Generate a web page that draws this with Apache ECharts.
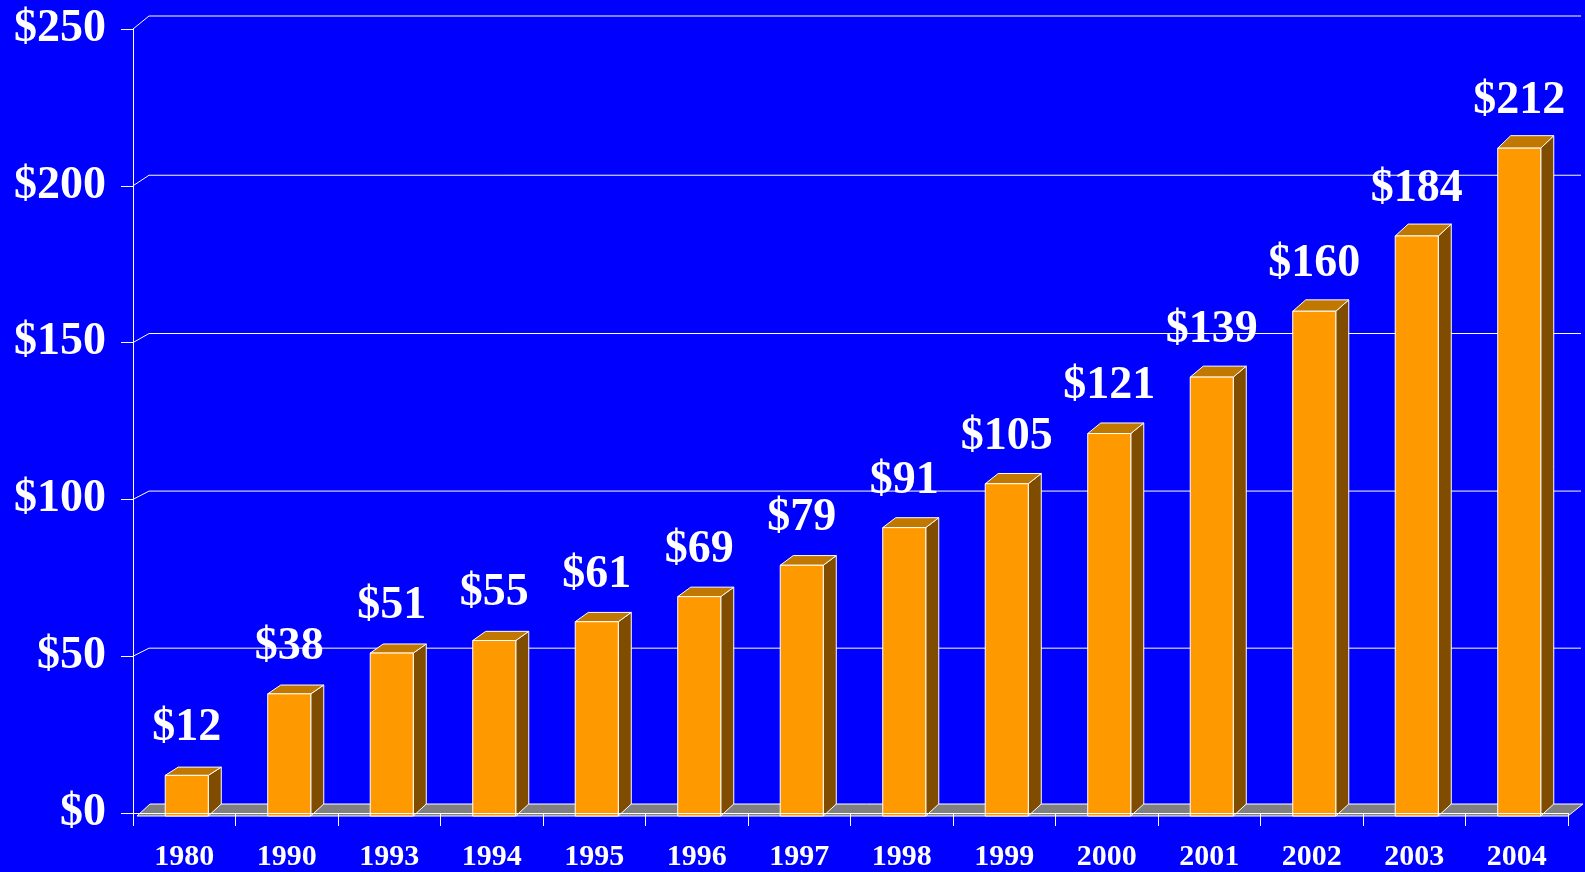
<!DOCTYPE html>
<html>
<head>
<meta charset="utf-8">
<script src="https://cdn.jsdelivr.net/npm/echarts@6/dist/echarts.min.js"></script>
<style>
html,body{margin:0;padding:0;background:#0000FF;}
#c{width:1585px;height:872px;}
</style>
</head>
<body>
<div id="c"></div>
<script>
const years = ['1980','1990','1993','1994','1995','1996','1997','1998','1999','2000','2001','2002','2003','2004'];
const values = [12,38,51,55,61,69,79,91,105,121,139,160,184,212];
const yTicks = [0,50,100,150,200,250];

const FONT = '"Liberation Serif","Times New Roman",serif';
const chart = echarts.init(document.getElementById('c'));

function wallDy(v){ return -(8 + 5*Math.pow(v/250,3)); }

const option = {
  backgroundColor: '#0000FF',
  animation: false,
  grid: {left: 133, right: 17, top: 29, bottom: 58, containLabel: false},
  xAxis: {
    type: 'category', data: years, z: 10,
    axisLine: {show: true, lineStyle: {color: '#FFFFFF', width: 1}},
    axisTick: {show: true, length: 13, lineStyle: {color: '#FFFFFF'}},
    axisLabel: {color: '#FFFFFF', fontFamily: FONT, fontWeight: 'bold', fontSize: 30, margin: 29}
  },
  yAxis: {
    type: 'value', min: 0, max: 250, interval: 50, z: 10,
    axisLine: {show: true, lineStyle: {color: '#FFFFFF', width: 1}},
    axisTick: {show: true, length: 12, lineStyle: {color: '#FFFFFF'}},
    splitLine: {show: false},
    axisLabel: {color: '#FFFFFF', fontFamily: FONT, fontWeight: 'bold', fontSize: 46, margin: 27,
      formatter: v => '$' + v}
  },
  series: [
    {
      type: 'custom', name: 'grid', z: 1, clip: false, silent: true,
      data: yTicks.map(v => [0, v]),
      renderItem: function(params, api){
        const cs = params.coordSys;
        const v = api.value(1);
        const y = api.coord([0, v])[1];
        const dy = wallDy(v);
        if (v === 0) return null;
        return {
          type: 'polyline',
          shape: {points: [[cs.x, y], [cs.x + 16, y + dy], [cs.x + cs.width + 13, y + dy]]},
          style: {stroke: '#FFFFFF', lineWidth: 1, fill: null}
        };
      }
    },
    {
      type: 'custom', name: 'floor', z: 2, clip: false, silent: true,
      data: [[0, 0]],
      renderItem: function(params, api){
        const cs = params.coordSys;
        const y0 = api.coord([0, 0])[1];
        return {
          type: 'polygon',
          shape: {points: [[cs.x + 4, y0 + 3], [cs.x + cs.width, y0 + 3], [cs.x + cs.width + 15, y0 - 9], [cs.x + 17, y0 - 9]]},
          style: {fill: '#808080', stroke: '#FFFFFF', lineWidth: 1}
        };
      }
    },
    {
      type: 'custom', name: 'bars', z: 3, clip: false,
      data: values.map((v, i) => [i, v]),
      renderItem: function(params, api){
        const i = api.value(0), v = api.value(1);
        const top = api.coord([i, v]);
        const y0 = api.coord([i, 0])[1];
        const band = api.size([1, 0])[0];
        const w = band * 0.42;
        const cx = top[0] + 2.5;
        const L = cx - w/2, R = cx + w/2;
        const ty = top[1], by = y0 + 3;
        const dx = 13, dy = -(8 + 4.5 * v / 212);
        const stroke = {stroke: '#FFFFFF', lineWidth: 1};
        return {
          type: 'group',
          children: [
            {type: 'polygon', shape: {points: [[R, ty], [R + dx, ty + dy], [R + dx, by - 12], [R, by]]},
              style: Object.assign({fill: '#7F4C00'}, stroke)},
            {type: 'polygon', shape: {points: [[L, ty], [L + dx, ty + dy], [R + dx, ty + dy], [R, ty]]},
              style: Object.assign({fill: '#C17800'}, stroke)},
            {type: 'polygon', shape: {points: [[L, ty], [R, ty], [R, by], [L, by]]},
              style: Object.assign({fill: '#FF9900'}, stroke)},
            {type: 'text', z2: 10, style: {text: '$' + v, x: cx, y: ty - 24,
              align: 'center', verticalAlign: 'bottom',
              font: 'bold 46px ' + FONT, fill: '#FFFFFF'}}
          ]
        };
      }
    }
  ]
};
chart.setOption(option);
</script>
</body>
</html>
